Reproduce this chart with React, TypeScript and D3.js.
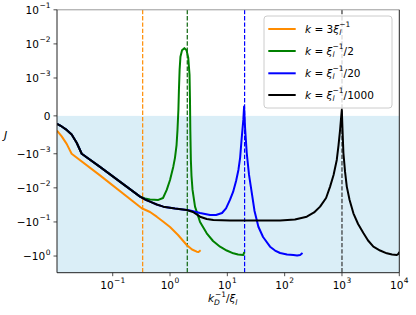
import React from 'react';
import * as d3 from 'd3';

// ---------- data ----------
const xTicks = [0.1, 1, 10, 100, 1000, 10000];
const xTickExps = ['−1', '0', '1', '2', '3', '4'];
const yTicks = [0.1, 0.01, 0.001, 0, -0.001, -0.01, -0.1, -1];
const yTickBases = ['10', '10', '10', '0', '−10', '−10', '−10', '−10'];
const yTickExps = ['−1', '−2', '−3', '', '−3', '−2', '−1', '0'];

const kValues = [1 / 3, 2, 20, 1000]; // vertical dashed markers

// shared low-x part of the three k <= 1/2 curves
const baseX = [0.01067, 0.01288, 0.01574, 0.01923, 0.02353, 0.0288, 0.06, 0.3];
const baseJ = [-2.1e-4, -2.8e-4, -3.7e-4, -4.9e-4, -7.1e-4, -1.0e-3, -2.43e-3, -0.0181];

const orangeX = [0.01067, 0.01288, 0.01574, 0.0192, 0.06, 0.321, 0.448, 0.586, 0.755, 1.0, 1.38, 1.955, 2.42, 2.92, 3.14, 3.42];
const orangeJ = [-3.9e-4, -5.4e-4, -7.4e-4, -1.0e-3, -4.3e-3, -0.0397, -0.051, -0.0701, -0.0968, -0.141, -0.241, -0.474, -0.644, -0.746, -0.76, -0.68];

const greenX = [0.366, 0.448, 0.625, 0.755, 0.876, 1.0, 1.14, 1.22, 1.3, 1.35, 1.4, 1.43, 1.47, 1.52, 1.62, 1.78, 1.94, 2.08, 2.19, 2.23, 2.26, 2.31, 2.37, 2.47, 2.73, 3.34, 4.37, 5.63, 7.46, 9.77, 12.7, 15.4, 19.0, 19.7];
const greenJ = [-0.0205, -0.0219, -0.0226, -0.0198, -0.0115, -5.87e-3, -2.39e-3, -1.32e-3, -7.7e-4, -3.7e-4, 1.6e-4, 6.9e-4, 1.74e-3, 4.18e-3, 6.5e-3, 7.5e-3, 6.5e-3, 3.9e-3, 1.24e-3, 4.2e-4, -3.7e-4, -1.52e-3, -4.48e-3, -0.0115, -0.0356, -0.1, -0.215, -0.362, -0.532, -0.689, -0.832, -0.902, -0.93, -0.76];

const midX = [0.366, 0.448, 0.586, 0.764, 1.22, 1.955];
const midJ = [-0.0219, -0.0254, -0.0307, -0.0356, -0.0402, -0.0446];

const blueX = [2.23, 3.34, 4.99, 6.35, 8.08, 9.49, 11.1, 12.6, 14.2, 15.6, 16.7, 17.7, 19.0, 19.6, 20.4, 21.8, 23.9, 26.7, 29.8, 34.8, 42.0, 55.6, 68.0, 83.2, 110, 142, 165, 186, 205];
const blueJ = [-0.0461, -0.0546, -0.0625, -0.0625, -0.0546, -0.0402, -0.0226, -0.0132, -6.27e-3, -2.98e-3, -1.32e-3, -6.3e-4, -1.06e-4, 2.46e-4, -3.2e-4, -9.8e-4, -4.18e-3, -0.0141, -0.0477, -0.138, -0.277, -0.532, -0.689, -0.815, -0.902, -0.93, -0.97, -0.93, -0.815];

const blackX = [2.52, 3.34, 4.37, 5.7, 11.1, 24.9, 83.2, 151, 243, 326, 415, 528, 620, 713, 811, 871, 927, 965, 993, 1019, 1059, 1132, 1213, 1358, 1582, 1910, 2362, 2851, 3530, 4624, 6050, 7480, 9040, 9660, 10000];
const blackJ = [-0.051, -0.0701, -0.0819, -0.0876, -0.0906, -0.0906, -0.0906, -0.0847, -0.0701, -0.0527, -0.0356, -0.0198, -9.2e-3, -4.18e-3, -1.52e-3, -7.7e-4, -3.7e-4, -5e-5, 1.6e-4, -3.2e-4, -9.8e-4, -3.41e-3, -9.2e-3, -0.0226, -0.0557, -0.115, -0.211, -0.35, -0.532, -0.689, -0.832, -0.902, -0.93, -0.86, -0.76];

const seriesColors = ['darkorange', 'green', 'blue', 'black'];
const markerColors = ['darkorange', '#0b640b', 'blue', '#333333'];

// ---------- layout ----------
const W = 416;
const H = 315;
const L = 57;
const R = 399.3;
const T = 9.8;
const B = 272.7;

const linthresh = 1e-3;
const linscaleAdj = 1 / (1 - 1 / 10);
function symlog(v: number): number {
  const a = Math.abs(v);
  if (a <= linthresh) return (v / linthresh) * linscaleAdj;
  return Math.sign(v) * (linscaleAdj + Math.log10(a / linthresh));
}

const xScale = d3.scaleLog().domain([0.01067, 1e4]).range([L, R]);
const yT = d3.scaleLinear().domain([symlog(-3.08), symlog(0.1)]).range([B, T]);
const yScale = (v: number) => yT(symlog(v));

const line = d3
  .line<[number, number]>()
  .x((d) => xScale(d[0]))
  .y((d) => yScale(d[1]));

const zip = (xs: number[], ys: number[]) => xs.map((x, i) => [x, ys[i]] as [number, number]);

const base = zip(baseX, baseJ);
const mid = zip(midX, midJ);
const series = [
  zip(orangeX, orangeJ),
  base.concat(zip(greenX, greenJ)),
  base.concat(mid, zip(blueX, blueJ)),
  base.concat(mid, zip(blackX, blackJ)),
];

const FONT = 'DejaVu Sans, sans-serif';
const FS = 10.5;
const SFS = 7.5;

function LegendLabel({ x, y, kind }: { x: number; y: number; kind: number }) {
  const tail = ['', '/2', '/20', '/1000'][kind];
  return (
    <text x={x} y={y} fontSize={FS} fontFamily={FONT} fill="black">
      <tspan fontStyle="italic">k</tspan>
      <tspan> = </tspan>
      {kind === 0 ? <tspan>3</tspan> : null}
      <tspan fontStyle="italic">ξ</tspan>
      <tspan fontStyle="italic" fontSize={SFS} dy={2.5}>l</tspan>
      <tspan fontSize={SFS} dy={-8} dx={-2}>−1</tspan>
      <tspan dy={5.5}>{tail}</tspan>
    </text>
  );
}

export default function App() {
  const y0 = yScale(0);
  const legendRows = [29, 51, 73.3, 95];
  return (
    <svg width={W} height={H} style={{ position: 'absolute', left: 0, top: 0 }}>
      <defs>
        <clipPath id="plotclip">
          <rect x={L} y={T} width={R - L} height={B - T} />
        </clipPath>
      </defs>
      <rect x={0} y={0} width={W} height={H} fill="white" />
      {/* shaded negative region */}
      <rect x={L} y={y0} width={R - L} height={B - y0} fill="rgb(218,238,247)" />
      <g clipPath="url(#plotclip)">
        {kValues.map((k, i) => (
          <line
            key={'v' + i}
            x1={xScale(k)}
            x2={xScale(k)}
            y1={T}
            y2={B}
            stroke={markerColors[i]}
            strokeWidth={1.2}
            strokeDasharray="4.4,1.9"
          />
        ))}
        {series.map((s, i) => (
          <path key={'s' + i} d={line(s) || ''} fill="none" stroke={seriesColors[i]} strokeWidth={2} strokeLinejoin="round" />
        ))}
      </g>
      {/* spines */}
      <line x1={L} x2={R} y1={T} y2={T} stroke="#999" strokeWidth={1} />
      <line x1={L} x2={L} y1={T} y2={B} stroke="#222" strokeWidth={1} />
      <line x1={R} x2={R} y1={T} y2={B} stroke="#222" strokeWidth={1} />
      <line x1={L} x2={R} y1={B} y2={B} stroke="#222" strokeWidth={1} />
      {/* x ticks */}
      {xTicks.map((t, i) => (
        <g key={'xt' + i}>
          <line x1={xScale(t)} x2={xScale(t)} y1={B} y2={B + 3.5} stroke="#222" strokeWidth={0.8} />
          <text x={xScale(t)} y={B + 16} fontSize={FS} fontFamily={FONT} textAnchor="middle" fill="black">
            <tspan>10</tspan>
            <tspan fontSize={SFS} dy={-5.5} dx={0.5}>{xTickExps[i]}</tspan>
          </text>
        </g>
      ))}
      {/* y ticks */}
      {yTicks.map((t, i) => (
        <g key={'yt' + i}>
          <line x1={L - 3.5} x2={L} y1={yScale(t)} y2={yScale(t)} stroke="#222" strokeWidth={0.8} />
          <text x={L - 6.5} y={yScale(t) + 4} fontSize={FS} fontFamily={FONT} textAnchor="end" fill="black">
            <tspan>{yTickBases[i]}</tspan>
            {yTickExps[i] ? (
              <tspan fontSize={SFS} dy={-5.5} dx={0.5}>{yTickExps[i]}</tspan>
            ) : null}
          </text>
        </g>
      ))}
      {/* axis labels */}
      <text x={4} y={139} fontSize={11} fontFamily={FONT} fontStyle="italic" fill="black">J</text>
      <text x={208} y={302} fontSize={FS} fontFamily={FONT} fill="black">
        <tspan fontStyle="italic">k</tspan>
        <tspan fontStyle="italic" fontSize={SFS} dy={2.5}>D</tspan>
        <tspan fontSize={SFS} dy={-8} dx={-5}>−1</tspan>
        <tspan dy={5.5}>/</tspan>
        <tspan fontStyle="italic">ξ</tspan>
        <tspan fontStyle="italic" fontSize={SFS} dy={2.5}>l</tspan>
      </text>
      {/* legend */}
      <rect x={264} y={16} width={128} height={92} rx={3} fill="white" fillOpacity={0.8} stroke="#cccccc" strokeWidth={1} />
      {legendRows.map((ry, i) => (
        <g key={'lg' + i}>
          <line x1={268.3} x2={295.7} y1={ry} y2={ry} stroke={seriesColors[i]} strokeWidth={2} />
          <LegendLabel x={305} y={ry + 3.5} kind={i} />
        </g>
      ))}
    </svg>
  );
}
